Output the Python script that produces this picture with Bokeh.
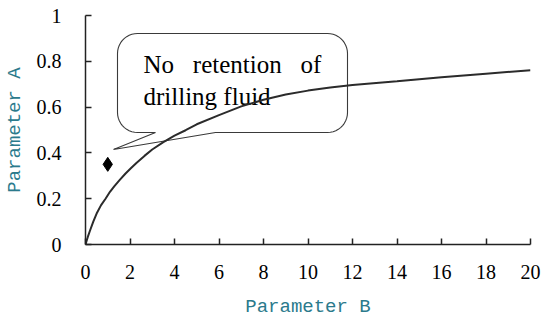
import numpy as np
from bokeh.plotting import figure
from bokeh.models import Range1d, SingleIntervalTicker, CustomJSTickFormatter
from bokeh.core.properties import value
from bokeh.embed import file_html
from bokeh.resources import INLINE

# ---- data ----
curve_x = [0, 0.1, 0.2, 0.35, 0.5, 0.7, 0.9, 1.1, 1.3, 1.55, 1.8, 2.05, 2.3, 2.65, 3, 3.5, 4, 4.5, 5, 6, 7, 8, 9, 10, 11, 12, 14, 16, 18, 20]
curve_y = [0, 0.032, 0.06, 0.1, 0.135, 0.172, 0.2, 0.23, 0.255, 0.283, 0.31, 0.334, 0.357, 0.387, 0.415, 0.447, 0.475, 0.499, 0.525, 0.565, 0.603, 0.632, 0.655, 0.672, 0.686, 0.697, 0.713, 0.73, 0.746, 0.761]
point_x = [1.0]
point_y = [0.35]
callout_lines = ["No\u00a0\u00a0\u00a0retention\u00a0\u00a0\u00a0of", "drilling fluid"]
x_label = "Parameter B"
y_label = "Parameter A"

FW, FH = 445, 229
L, R, T, B = 77, 12, 15, 60
p = figure(frame_width=FW, frame_height=FH, output_backend="svg", toolbar_location=None,
           x_range=Range1d(0, 20), y_range=Range1d(0, 1),
           min_border_left=L, min_border_right=R, min_border_top=T, min_border_bottom=B)
p.outline_line_color = None
p.xgrid.visible = False
p.ygrid.visible = False
p.background_fill_color = "white"
p.border_fill_color = "white"

sx = FW / 20.0
sy = FH / 1.0

def px(xp):
    return (xp - 85) / sx

def py(yp):
    return (245 - yp) / sy

# ---- callout (rounded rectangle with wedge) ----
x0, x1, ytop, ybot = 117, 347, 34, 133
r = 20
xs, ys = [], []
def arc(cx, cy, a0, a1):
    t = np.linspace(a0, a1, 12)
    for a in t:
        xs.append(cx + r * np.cos(a))
        ys.append(cy - r * np.sin(a))
arc(x0 + r, ytop + r, np.pi, np.pi / 2)
arc(x1 - r, ytop + r, np.pi / 2, 0)
arc(x1 - r, ybot - r, 0, -np.pi / 2)
xs += [215, 113, 155]
ys += [ybot, 150, ybot]
arc(x0 + r, ybot - r, -np.pi / 2, -np.pi)
xs.append(xs[0]); ys.append(ys[0])
p.patch([px(v) for v in xs], [py(v) for v in ys], fill_alpha=0,
        line_color="#3a3a3a", line_width=1.1)

p.text(x=[px(143), px(143)], y=[py(65), py(97)], text=callout_lines,
       text_font=value("Liberation Serif"), text_font_size="25px",
       text_color="black", text_baseline="alphabetic", text_align="left")

# ---- curve and point ----
p.line(curve_x, curve_y, line_color="#2b2b2b", line_width=2)
p.scatter(point_x, point_y, marker="diamond", size=14, fill_color="black", line_color="black")

# ---- axes ----
p.xaxis.ticker = SingleIntervalTicker(interval=2)
p.yaxis.ticker = SingleIntervalTicker(interval=0.2)
p.yaxis.formatter = CustomJSTickFormatter(code="return (Math.round(tick*10)/10).toString();")
for ax in (p.xaxis, p.yaxis):
    ax.axis_line_color = "#222222"
    ax.axis_line_width = 1.5
    ax.major_tick_line_color = "#222222"
    ax.major_tick_line_width = 1.5
    ax.major_tick_in = 6
    ax.major_tick_out = 0
    ax.minor_tick_line_color = None
    ax.major_label_text_font = "Liberation Serif"
    ax.major_label_text_font_size = "20px"
    ax.major_label_text_color = "black"
    ax.axis_label_text_font = "Liberation Mono"
    ax.axis_label_text_font_size = "19px"
    ax.axis_label_text_font_style = "normal"
    ax.axis_label_text_color = "#2b7a8c"
p.xaxis.axis_label = x_label
p.yaxis.axis_label = y_label
p.xaxis.major_label_standoff = 16
p.yaxis.major_label_standoff = 20
p.xaxis.axis_label_standoff = 14
p.yaxis.axis_label_standoff = 8

open("out.html", "w").write(file_html(p, INLINE))
